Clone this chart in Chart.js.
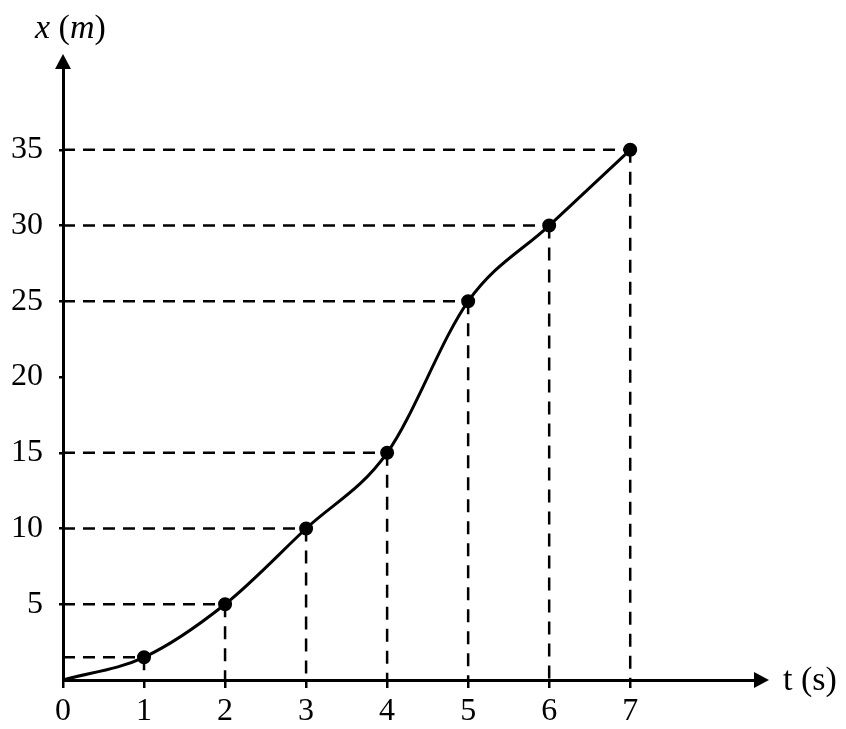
<!DOCTYPE html>
<html lang="vi">
<head>
<meta charset="UTF-8">
<title>x (m) theo t (s)</title>
<script src="https://cdn.jsdelivr.net/npm/chart.js"></script>
<style>
  html, body { margin: 0; padding: 0; background: #fff; }
  .wrap { width: 846px; height: 729px; }
</style>
</head>
<body>
<div class="wrap"><canvas id="chart" width="846" height="729"></canvas></div>
<script>
  // số liệu đọc từ đồ thị
  const times = [0, 1, 2, 3, 4, 5, 6, 7];
  const positions = [0, 1.5, 5, 10, 15, 25, 30, 35];
  const xTicks = [0, 1, 2, 3, 4, 5, 6, 7];
  const yTicks = [5, 10, 15, 20, 25, 30, 35];

  const FONT = '"Liberation Serif", "Times New Roman", serif';

  // các đường gióng nét đứt tới hai trục
  const guides = [];
  for (let i = 1; i < times.length; i++) {
    const t = times[i], x = positions[i];
    guides.push({
      data: [{ x: 0, y: x }, { x: t, y: x }],
      borderColor: '#000', borderWidth: 2.5, borderDash: [12, 8],
      pointRadius: 0, order: 2
    });
    guides.push({
      data: [{ x: t, y: x }, { x: t, y: 0 }],
      borderColor: '#000', borderWidth: 2.5, borderDash: [13, 9],
      pointRadius: 0, order: 2
    });
  }

  const curve = {
    data: times.map((t, i) => ({ x: t, y: positions[i] })),
    borderColor: '#000',
    borderWidth: 3,
    cubicInterpolationMode: 'monotone',
    pointRadius: times.map((t, i) => i === 0 ? 0 : 5.5),
    pointBackgroundColor: '#000',
    pointBorderColor: '#000',
    order: 1
  };

  const axesPlugin = {
    id: 'axesExtra',
    afterDraw(chart) {
      const { ctx, chartArea: a } = chart;
      ctx.save();
      ctx.fillStyle = '#000';
      // mũi tên trục tung
      ctx.beginPath();
      ctx.moveTo(a.left, a.top - 14);
      ctx.lineTo(a.left - 8, a.top + 1);
      ctx.lineTo(a.left + 8, a.top + 1);
      ctx.closePath();
      ctx.fill();
      // mũi tên trục hoành
      ctx.beginPath();
      ctx.moveTo(a.right + 14, a.bottom);
      ctx.lineTo(a.right - 1, a.bottom - 8);
      ctx.lineTo(a.right - 1, a.bottom + 8);
      ctx.closePath();
      ctx.fill();

      // nhãn trục tung: x (m)
      ctx.textBaseline = 'alphabetic';
      let px = 35;
      const py = 38;
      const parts = [['x', true], [' (', false], ['m', true], [')', false]];
      parts.forEach(([s, it]) => {
        ctx.font = (it ? 'italic ' : '') + '34px ' + FONT;
        ctx.fillText(s, px, py);
        px += ctx.measureText(s).width;
      });

      // nhãn trục hoành: t (s)
      ctx.font = '34px ' + FONT;
      ctx.fillText('t (s)', a.right + 28, a.bottom + 10);
      ctx.restore();
    }
  };

  new Chart(document.getElementById('chart'), {
    type: 'line',
    data: { datasets: [curve, ...guides] },
    options: {
      responsive: false,
      animation: false,
      layout: { padding: { top: 68, right: 91, left: 0, bottom: 0 } },
      plugins: { legend: { display: false }, tooltip: { enabled: false } },
      scales: {
        x: {
          type: 'linear',
          min: 0,
          max: 8.54,
          afterBuildTicks: axis => { axis.ticks = xTicks.map(v => ({ value: v })); },
          afterFit: scale => { scale.height = 49; },
          border: { display: true, color: '#000', width: 3 },
          grid: { drawOnChartArea: false, drawTicks: true, tickLength: 8, color: '#000', lineWidth: 2.5 },
          ticks: { color: '#000', font: { family: FONT, size: 32 }, padding: 4, maxRotation: 0 }
        },
        y: {
          type: 'linear',
          min: 0,
          max: 40.4,
          afterBuildTicks: axis => { axis.ticks = yTicks.map(v => ({ value: v })); },
          afterFit: scale => { scale.width = 63; },
          border: { display: true, color: '#000', width: 3 },
          grid: { drawOnChartArea: false, drawTicks: true, tickLength: 4, color: '#000', lineWidth: 2.5 },
          ticks: { color: '#000', font: { family: FONT, size: 32 }, padding: 16 }
        }
      }
    },
    plugins: [axesPlugin]
  });
</script>
</body>
</html>
